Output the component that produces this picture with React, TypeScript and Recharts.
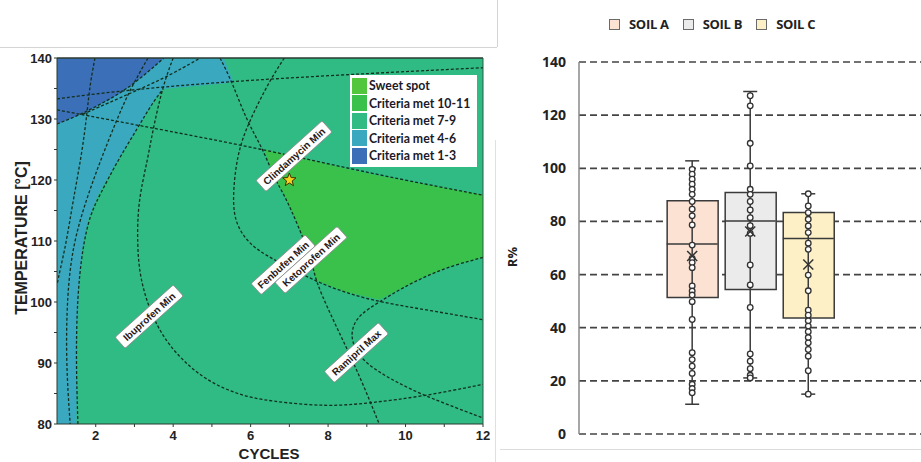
import React from "react";
import {
  ComposedChart,
  Area,
  Line,
  Scatter,
  Bar,
  Cell,
  XAxis,
  YAxis,
  CartesianGrid,
  ReferenceLine,
} from "recharts";

// ---------- left panel: design space (cycles vs temperature) ----------
const cycleTicks = [2, 3, 4, 5, 6, 7, 8, 9, 10, 11, 12];
const tempTicks = [80, 85, 90, 95, 100, 105, 110, 115, 120, 125, 130, 135, 140];

const regionLegend = [
  { name: "Sweet spot", color: "#52c63c" },
  { name: "Criteria met 10-11", color: "#3ac14c" },
  { name: "Criteria met 7-9", color: "#30ba84" },
  { name: "Criteria met 4-6", color: "#3aa8bf" },
  { name: "Criteria met 1-3", color: "#3b6fb7" },
];

// region outlines: [cycles, lower temp, upper temp]
const zone79 = [
  [1, 80, 140],
  [12, 80, 140],
];
const zone46 = [
  [1, 80, 140],
  [1.5, 80, 140],
  [1.53, 92, 140],
  [1.56, 102, 140],
  [1.65, 108.6, 140],
  [1.8, 113.5, 140],
  [2.06, 117.6, 140],
  [2.55, 123, 140],
  [3.07, 128.4, 140],
  [3.48, 132.8, 140],
  [3.74, 134.9, 140],
  [4.57, 135.4, 140],
  [5.3, 135.8, 140],
  [5.55, 136.1, 136.1],
];
const zone13 = [
  [1, 129.2, 140],
  [1.65, 130.8, 140],
  [2.55, 133.9, 140],
  [2.96, 135.7, 140],
  [3.4, 138, 140],
  [3.76, 140, 140],
];
const zone1011 = [
  [6.37, 124.8, 125.0],
  [6.63, 120.0, 124.6],
  [6.87, 117.6, 124.3],
  [7.25, 112.2, 123.7],
  [7.59, 106.6, 123.2],
  [7.67, 103.6, 123.1],
  [8.44, 101.7, 121.9],
  [9.32, 100.4, 120.7],
  [9.91, 102.3, 120.0],
  [10.61, 104.5, 119.2],
  [11.28, 106.1, 118.4],
  [12, 107.3, 117.6],
];

// dashed contour lines: [cycles, temp]
const lineA = [[1, 131.5], [2.99, 129.1], [6.3, 125.1], [9.14, 121.0], [12, 117.5]];
const lineB = [[1, 133.3], [2.81, 134.8], [6.3, 136.6], [12, 138.4]];
const lineD = [[1, 129.2], [1.65, 130.8], [2.55, 133.9], [2.96, 135.7], [3.4, 138.0], [3.76, 140]];
const lineD2 = [[1.67, 130.8], [2.96, 134.4], [3.84, 136.9], [4.7, 140]];
const lineS1 = [[1.98, 140], [1.85, 135.6], [1.78, 131.2], [1.65, 124.6], [1.41, 116.4], [1.23, 109.4], [1.08, 105.3], [1, 102.8]];
const lineS2 = [[3.35, 140], [2.89, 134.9], [2.55, 130.0], [2.11, 123.0], [1.75, 116.7], [1.41, 109.4], [1.26, 101.2], [1.23, 90.2], [1.34, 80]];
const lineG = [[1.54, 80], [1.49, 90.5], [1.52, 100.4], [1.65, 108.6], [1.85, 114.3], [2.11, 117.6], [2.55, 123.0], [3.07, 128.4], [3.48, 132.8], [3.74, 134.9]];
const ibuprofen = [[4.0, 140], [3.74, 135.6], [3.48, 128.4], [3.33, 123.0], [3.09, 116.4], [3.07, 109.4], [3.14, 104.0], [3.4, 98.4], [3.84, 93.0], [4.7, 87.6], [5.65, 84.8], [6.5, 83.7], [8.03, 82.8], [9.14, 83.5], [10.43, 84.5], [12, 86.5]];
const clindamycin = [[5.21, 140], [5.52, 136.1], [5.91, 129.5], [6.32, 125.1], [6.63, 120.0], [6.87, 117.6], [7.25, 112.2], [7.59, 106.6], [7.67, 103.6], [8.03, 98.4], [8.44, 93.0], [8.88, 86.9], [9.32, 80]];
const fenbufen = [[6.87, 140], [6.5, 136.4], [5.99, 130.0], [5.65, 124.6], [5.52, 116.4], [5.63, 112.6], [5.94, 109.7], [6.37, 107.7], [7.02, 105.6], [7.77, 103.1], [8.57, 101.3], [9.32, 100.0], [10.64, 98.6], [12, 97.1]];
const ramipril = [[12, 107.3], [11.28, 106.1], [10.61, 104.5], [9.91, 102.3], [9.32, 100.0], [8.8, 97.9], [8.62, 95.8], [8.6, 93.5], [8.88, 90.2], [9.73, 86.9], [10.61, 84.3], [12, 81.0]];

const contourLines = [lineA, lineB, lineD, lineD2, lineS1, lineS2, lineG, ibuprofen, clindamycin, fenbufen, ramipril];

const contourLabels = [
  { c: 7.12, t: 123.9, text: "Clindamycin Min" },
  { c: 6.84, t: 106.1, text: "Fenbufen Min" },
  { c: 7.56, t: 106.9, text: "Ketoprofen Min" },
  { c: 3.38, t: 97.6, text: "Ibuprofen Min" },
  { c: 8.73, t: 91.7, text: "Ramipril Max" },
];
const sweetSpot = [{ c: 7, t: 120 }];

const toRange = (rows: number[][]) => rows.map(([c, lo, hi]) => ({ c, r: [lo, hi] }));
const toPoints = (rows: number[][]) => rows.map(([c, t]) => ({ c, t }));

// ---------- right panel: recoveries per soil ----------
const soils = ["SOIL A", "SOIL B", "SOIL C"];
const soilFills = ["#fbe2d2", "#ebebeb", "#fdf0c6"];
const soilPos = [1, 2, 3];
const q1 = [51.4, 54.4, 43.7];
const medians = [71.5, 80.2, 73.6];
const q3 = [87.8, 90.9, 83.4];
const whiskerLow = [11.2, 21.1, 15.0];
const whiskerHigh = [102.8, 128.9, 90.4];
const means = [67.0, 76.2, 63.8];
const soilAValues = [99.6, 97.8, 95.9, 94.0, 92.1, 90.2, 87.5, 84.6, 82.1, 78.7, 71.1, 66.1, 64.5, 62.6, 55.7, 53.8, 52.3, 49.8, 43.1, 30.6, 28.0, 25.5, 22.8, 18.7, 17.1, 15.5];
const soilBValues = [127.3, 123.5, 109.4, 100.9, 92.1, 90.2, 87.5, 84.3, 81.4, 78.4, 75.5, 63.6, 56.1, 47.6, 30.1, 27.4, 24.6, 22.1, 21.1];
const soilCValues = [90.4, 85.8, 83.3, 80.8, 78.3, 75.8, 71.8, 69.5, 59.8, 53.9, 46.6, 44.7, 42.6, 40.6, 38.5, 36.3, 34.3, 31.8, 29.3, 23.8, 15.0];
const rTicks = [0, 20, 40, 60, 80, 100, 120, 140];

const soilValues = [soilAValues, soilBValues, soilCValues];
const boxRows = soilPos.map((pos, i) => ({ pos, box: [q1[i], q3[i]] }));
const medianRows = soilPos.map((pos, i) => ({ pos, v: medians[i] }));
const meanRows = soilPos.map((pos, i) => ({ pos, v: means[i] }));
const capRows = soilPos.flatMap((pos, i) => [
  { pos, v: whiskerLow[i] },
  { pos, v: whiskerHigh[i] },
]);
const pointRows = soilPos.flatMap((pos, i) => soilValues[i].map((v) => ({ pos, v })));

const lineColor = "#12301f";
const arial = "'Liberation Sans', Arial, sans-serif";

function ContourTag(props: any) {
  const { cx, cy, payload } = props;
  const w = payload.text.length * 5.4 + 8;
  return (
    <g transform={`translate(${cx},${cy}) rotate(-42)`}>
      <rect x={-w / 2} y={-7.5} width={w} height={15} rx={1.5} fill="#fff" stroke="#8a8a8a" strokeWidth={0.8} />
      <text x={0} y={3.7} textAnchor="middle" fontSize={10} fontWeight="bold" fontFamily={arial} fill="#2a1818">
        {payload.text}
      </text>
    </g>
  );
}

function Star(props: any) {
  const { cx, cy } = props;
  const pts: string[] = [];
  for (let k = 0; k < 10; k++) {
    const rad = k % 2 === 0 ? 7 : 3;
    const a = (Math.PI / 5) * k - Math.PI / 2;
    pts.push(`${cx + rad * Math.cos(a)},${cy + rad * Math.sin(a)}`);
  }
  return <polygon points={pts.join(" ")} fill="#f4d21c" stroke="#3a3300" strokeWidth={1} />;
}

function DesignSpace() {
  const zones = [
    { rows: zone79, color: regionLegend[2].color },
    { rows: zone46, color: regionLegend[3].color },
    { rows: zone13, color: regionLegend[4].color },
    { rows: zone1011, color: regionLegend[1].color },
  ];
  return (
    <ComposedChart width={500} height={462} margin={{ top: 58, right: 17, bottom: 8, left: 17 }}>
      <XAxis
        type="number"
        dataKey="c"
        domain={[1, 12]}
        ticks={cycleTicks}
        allowDataOverflow
        height={30}
        tickSize={3}
        tickMargin={4}
        stroke="#2b3a32"
        tick={{ fill: "#222", fontSize: 13, fontWeight: 700, fontFamily: arial }}
        tickFormatter={(v: number) => (v % 2 === 0 ? String(v) : "")}
      />
      <YAxis
        type="number"
        dataKey="t"
        domain={[80, 140]}
        ticks={tempTicks}
        allowDataOverflow
        width={40}
        tickSize={3}
        tickMargin={2}
        stroke="#2b3a32"
        tick={{ fill: "#222", fontSize: 13, fontWeight: 700, fontFamily: arial }}
        tickFormatter={(v: number) => (v % 10 === 0 ? String(v) : "")}
      />
      {zones.map((z, i) => (
        <Area
          key={`zone-${i}`}
          data={toRange(z.rows)}
          dataKey="r"
          type="linear"
          fill={z.color}
          fillOpacity={1}
          stroke="none"
          isAnimationActive={false}
          activeDot={false}
        />
      ))}
      {contourLines.map((rows, i) => (
        <Line
          key={`line-${i}`}
          data={toPoints(rows)}
          dataKey="t"
          type="basis"
          stroke={lineColor}
          strokeWidth={1.3}
          strokeDasharray="3 2"
          dot={false}
          activeDot={false}
          isAnimationActive={false}
        />
      ))}
      <ReferenceLine y={140} stroke="#2b3a32" strokeWidth={1.5} />
      <ReferenceLine x={12} stroke="#2b5a42" strokeWidth={1} />
      <Scatter data={contourLabels} dataKey="t" shape={<ContourTag />} isAnimationActive={false} />
      <Scatter data={sweetSpot} dataKey="t" shape={<Star />} isAnimationActive={false} />
    </ComposedChart>
  );
}

function MedianTick(props: any) {
  const { cx, cy } = props;
  return <line x1={cx - 25.5} x2={cx + 25.5} y1={cy} y2={cy} stroke="#3a3a3a" strokeWidth={1.5} />;
}
function CapTick(props: any) {
  const { cx, cy } = props;
  return <line x1={cx - 7} x2={cx + 7} y1={cy} y2={cy} stroke="#3a3a3a" strokeWidth={1.5} />;
}
function MeanMark(props: any) {
  const { cx, cy } = props;
  return (
    <g stroke="#333" strokeWidth={1.5}>
      <line x1={cx - 5} y1={cy - 5} x2={cx + 5} y2={cy + 5} />
      <line x1={cx - 5} y1={cy + 5} x2={cx + 5} y2={cy - 5} />
    </g>
  );
}
function Dot(props: any) {
  const { cx, cy } = props;
  return <circle cx={cx} cy={cy} r={2.8} fill="#fff" stroke="#333" strokeWidth={1.3} />;
}

function SoilBoxes() {
  return (
    <ComposedChart data={boxRows} width={440} height={462} margin={{ top: 62, right: 0, bottom: 28, left: 19 }}>
      <CartesianGrid vertical={false} stroke="#444" strokeWidth={1.7} strokeDasharray="7 4" />
      <XAxis type="number" dataKey="pos" domain={[-0.95, 5.27]} hide allowDataOverflow />
      <YAxis
        type="number"
        dataKey="v"
        domain={[0, 140]}
        ticks={rTicks}
        width={60}
        tickLine={false}
        tickMargin={7}
        stroke="#8a8a8a"
        strokeWidth={1.5}
        tick={{ fill: "#222", fontSize: 14, fontWeight: 700, fontFamily: "'Open Sans', sans-serif" }}
      />
      <Bar dataKey="box" barSize={51} stroke="#3a3a3a" strokeWidth={1.5} isAnimationActive={false}>
        {boxRows.map((_, i) => (
          <Cell key={`box-${i}`} fill={soilFills[i]} />
        ))}
      </Bar>
      {soilPos.map((pos, i) => (
        <Line
          key={`whisker-${i}`}
          data={[
            { pos, v: whiskerLow[i] },
            { pos, v: whiskerHigh[i] },
          ]}
          dataKey="v"
          stroke="#3a3a3a"
          strokeWidth={1.5}
          dot={false}
          activeDot={false}
          isAnimationActive={false}
        />
      ))}
      <Scatter data={capRows} dataKey="v" shape={<CapTick />} isAnimationActive={false} />
      <Scatter data={medianRows} dataKey="v" shape={<MedianTick />} isAnimationActive={false} />
      <Scatter data={pointRows} dataKey="v" shape={<Dot />} isAnimationActive={false} />
      <Scatter data={meanRows} dataKey="v" shape={<MeanMark />} isAnimationActive={false} />
    </ComposedChart>
  );
}

const rotated = (left: number, top: number, size: number, text: string, family: string) => (
  <div
    style={{
      position: "absolute",
      left,
      top,
      transform: "translate(-50%, -50%) rotate(-90deg)",
      whiteSpace: "nowrap",
      fontFamily: family,
      fontWeight: 700,
      fontSize: size,
      color: "#222",
    }}
  >
    {text}
  </div>
);

export default function App() {
  return (
    <div style={{ position: "absolute", left: 0, top: 0, width: 921, height: 462, background: "#fff", overflow: "hidden" }}>
      {/* frame lines of the two source figures */}
      <div style={{ position: "absolute", left: 0, top: 47, width: 497, height: 1, background: "#d4d4d4" }} />
      <div style={{ position: "absolute", left: 497, top: 0, width: 1, height: 47, background: "#d4d4d4" }} />
      <div style={{ position: "absolute", left: 495, top: 140, width: 1, height: 322, background: "#e0e0e0" }} />
      <div style={{ position: "absolute", left: 500, top: 449, width: 421, height: 1, background: "#dcdcdc" }} />

      <div style={{ position: "absolute", left: 0, top: 0 }}>
        <DesignSpace />
      </div>
      {rotated(22, 238, 16, "TEMPERATURE [°C]", arial)}
      <div style={{ position: "absolute", left: 269, top: 453, transform: "translate(-50%, -50%)", fontFamily: arial, fontWeight: 700, fontSize: 15, color: "#222" }}>
        CYCLES
      </div>
      <div style={{ position: "absolute", left: 350, top: 75, width: 127, padding: "2px 0", background: "#fff" }}>
        {regionLegend.map((item) => (
          <div key={item.name} style={{ display: "flex", alignItems: "center", height: 17.5 }}>
            <div style={{ width: 15, height: 16, background: item.color, marginLeft: 2 }} />
            <span style={{ marginLeft: 2, fontFamily: "Lato, sans-serif", fontWeight: 700, fontSize: 12.3, color: "#1a1a28", whiteSpace: "nowrap" }}>
              {item.name}
            </span>
          </div>
        ))}
      </div>

      <div style={{ position: "absolute", left: 500, top: 0 }}>
        <SoilBoxes />
      </div>
      {rotated(512, 257, 13, "R%", "'Open Sans', sans-serif")}
      <div style={{ position: "absolute", left: 609, top: 15, display: "flex", alignItems: "center" }}>
        {soils.map((s, i) => (
          <div key={s} style={{ display: "flex", alignItems: "center", marginRight: 14 }}>
            <div style={{ width: 9, height: 9, background: soilFills[i], border: "1px solid #6a6a6a" }} />
            <span style={{ marginLeft: 9, fontFamily: "'Open Sans', sans-serif", fontWeight: 700, fontSize: 13, color: "#222", letterSpacing: -0.3 }}>
              {s}
            </span>
          </div>
        ))}
      </div>
    </div>
  );
}
